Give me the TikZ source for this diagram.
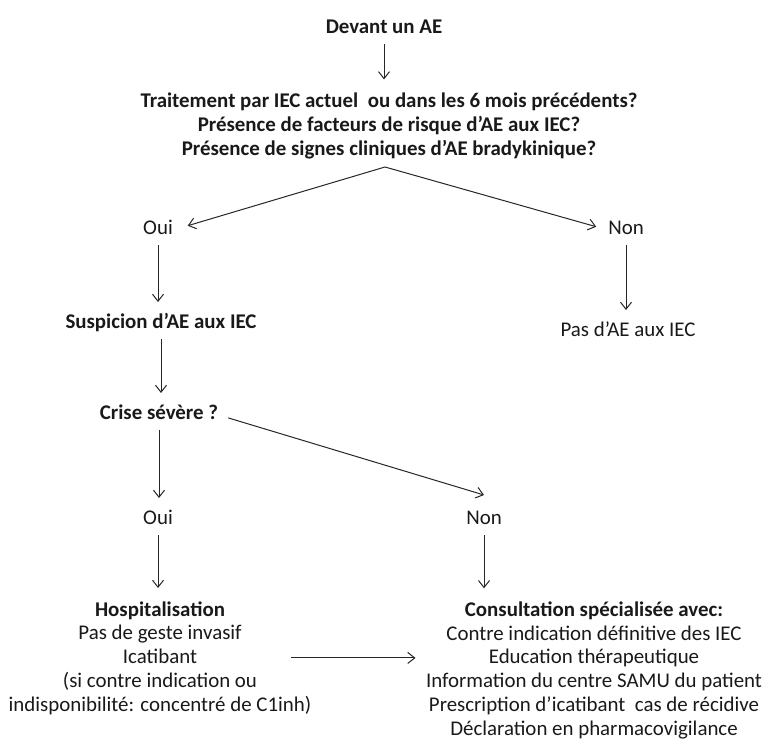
\documentclass[tikz,border=0pt]{standalone}
\usepackage{fontspec}
\setmainfont{Carlito}
\usepackage{tikz}
\usetikzlibrary{arrows.meta,positioning}
\newcommand{\aefont}{\fontsize{20.9}{23.7}\selectfont}

\begin{document}
\begin{tikzpicture}[x=1pt, y=-1pt, >={Straight Barb[length=7pt,width=11pt]}, line width=1pt]
\tikzstyle{txt}=[inner sep=0pt, text height=13pt, text depth=4pt, font=\aefont, text=black!90]
\tikzstyle{ttl}=[txt, font=\aefont\bfseries]
\tikzstyle{blk}=[inner sep=0pt, align=center, font=\aefont, text=black!90]
\tikzstyle{arr}=[->, draw=black!85, shorten <=6pt, shorten >=13pt]
\useasboundingbox (0,0) rectangle (762,744);

% question de depart
\node[ttl] (devant) at (384,29) {Devant un AE};
\node[blk, font=\aefont\bfseries, anchor=base] (quest) at (389,155)
  {Traitement par IEC actuel\ \ ou dans les 6 mois précédents?\\
   Présence de facteurs de risque d’AE aux IEC?\\
   Présence de signes cliniques d’AE bradykinique?};
\coordinate (apex) at (385,167);

% branches oui / non
\node[txt] (oui1) at (158,230) {Oui};
\node[txt] (non1) at (626,230) {Non};
\node[ttl] (susp) at (161,324) {Suspicion d’AE aux IEC};
\node[txt] (pasae) at (628,332) {Pas d’AE aux IEC};
\node[ttl] (crise) at (159,415) {Crise sévère ?};
\node[txt] (oui2) at (158,520) {Oui};
\node[txt, right=326pt of oui2.center, anchor=center] (non2) {Non};

% prise en charge
\node[blk, anchor=base] (hosp) at (160,711)
  {\textbf{Hospitalisation}\\
   Pas de geste invasif\\
   Icatibant\\
   (si contre indication ou\\
   indisponibilité: concentré de C1inh)};
\node[blk, anchor=base] (consult) at (594,735)
  {\textbf{Consultation spécialisée avec:}\\
   Contre indication définitive des IEC\\
   Education thérapeutique\\
   Information du centre SAMU du patient\\
   Prescription d’icatibant\ \ cas de récidive\\
   Déclaration en pharmacovigilance};

\draw[arr] (devant) -- (devant |- quest.north);
\draw[->, draw=black!85, shorten >=15pt] (apex) -- (oui1.east);
\draw[->, draw=black!85, shorten >=12pt] (apex) -- (non1.west);
\draw[arr] (oui1) -- (oui1 |- susp.north);
\draw[arr] (non1) -- (non1 |- pasae.north);
\draw[arr] (susp) -- (susp |- crise.north);
\draw[->, draw=black!85, shorten <=10pt] (crise.east) -- ([yshift=16pt]non2.north);
\draw[arr] (crise) -- (crise |- oui2.north);
\draw[arr] (oui2) -- (oui2 |- hosp.north);
\draw[arr] (non2) -- (non2 |- consult.north);
\draw[->, draw=black!85, shorten >=10pt] ([xshift=131pt]hosp.center) -- (consult.west |- hosp.center);
\end{tikzpicture}
\end{document}
